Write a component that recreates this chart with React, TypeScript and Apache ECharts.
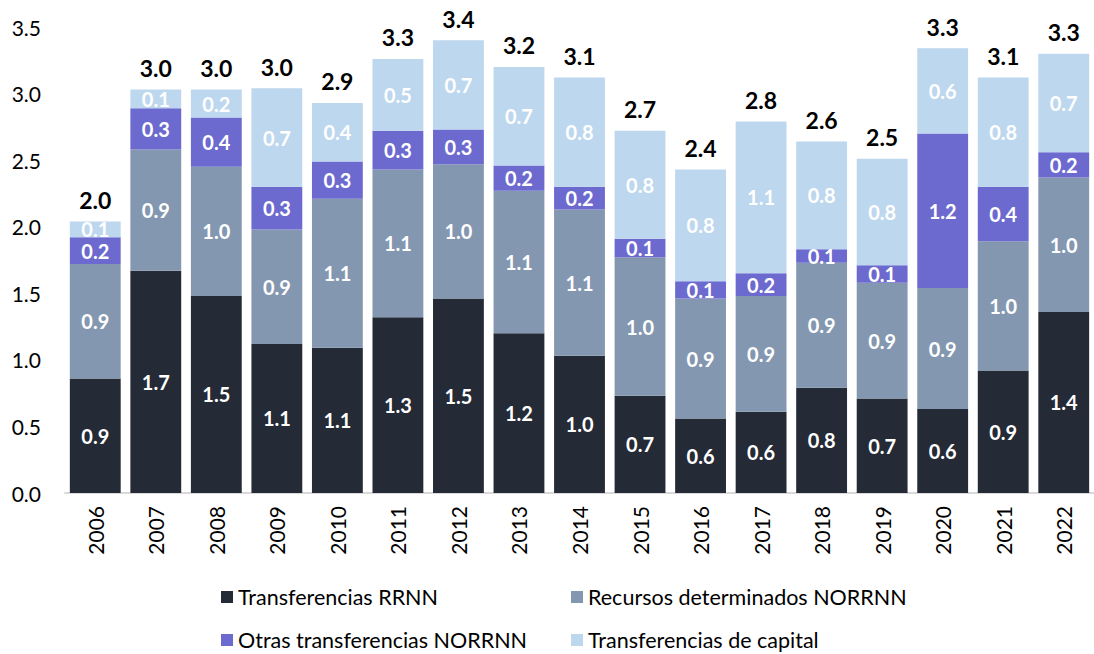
import React, { useEffect, useRef } from "react";
import * as echarts from "echarts";

const years = ["2006","2007","2008","2009","2010","2011","2012","2013","2014","2015","2016","2017","2018","2019","2020","2021","2022"];
const rrnn = [0.86,1.67,1.48,1.12,1.09,1.32,1.46,1.20,1.03,0.73,0.56,0.61,0.79,0.71,0.63,0.92,1.36];
const recursos = [0.86,0.91,0.97,0.86,1.12,1.11,1.01,1.07,1.10,1.04,0.90,0.87,0.94,0.87,0.91,0.97,1.01];
const otras = [0.20,0.31,0.37,0.32,0.28,0.29,0.26,0.19,0.17,0.14,0.13,0.17,0.10,0.13,1.16,0.41,0.19];
const capital = [0.12,0.14,0.21,0.74,0.44,0.54,0.67,0.74,0.82,0.81,0.84,1.14,0.81,0.80,0.64,0.82,0.74];
const yTicks = { min: 0, max: 3.5, interval: 0.5 };
const names = ["Transferencias RRNN","Recursos determinados NORRNN","Otras transferencias NORRNN","Transferencias de capital"];
const colors = ["#242a36","#8497b0","#6c69cf","#bdd7ee"];

const FONT = "Lato";

export default function App() {
  const ref = useRef<HTMLDivElement>(null);
  useEffect(() => {
    if (!ref.current) return;
    const chart = echarts.init(ref.current, null, { renderer: "svg" });
    const totals = years.map((_, i) => Math.round((rrnn[i] + recursos[i] + otras[i] + capital[i]) * 100) / 100);
    const seriesData = [rrnn, recursos, otras, capital];
    const series: any[] = seriesData.map((d, k) => ({
      name: names[k],
      type: "bar",
      stack: "total",
      barCategoryGap: "16%",
      data: d,
      itemStyle: { color: colors[k] },
      label: {
        show: true,
        position: "inside",
        color: "#ffffff",
        fontFamily: FONT,
        fontWeight: "bold",
        fontSize: 20,
        formatter: (p: any) => Number(p.value).toFixed(1),
      },
    }));
    series.push({
      name: "Total",
      type: "bar",
      stack: "total",
      data: totals.map(() => 0),
      itemStyle: { color: "transparent" },
      label: {
        show: true,
        position: "top",
        distance: 10,
        color: "#000000",
        fontFamily: FONT,
        fontWeight: "bold",
        fontSize: 23,
        formatter: (p: any) => totals[p.dataIndex].toFixed(1),
      },
    });
    const legendPos = [
      { left: 216, top: 581 },
      { left: 566, top: 581 },
      { left: 216, top: 624 },
      { left: 566, top: 624 },
    ];
    const legends = names.map((n, k) => ({
      data: [n],
      left: legendPos[k].left,
      top: legendPos[k].top,
      itemWidth: 12,
      itemHeight: 12,
      itemGap: 0,
      icon: "rect",
      textStyle: { fontFamily: FONT, fontSize: 21.5, color: "#000" },
    }));
    chart.setOption({
      animation: false,
      backgroundColor: "#ffffff",
      grid: { left: 65, top: 27, width: 1035, bottom: 161 },
      legend: legends,
      xAxis: {
        type: "category",
        data: years,
        axisLine: { lineStyle: { color: "#d9d9d9", width: 2 } },
        axisTick: { show: false },
        axisLabel: { rotate: 90, fontFamily: FONT, fontSize: 21, color: "#000", margin: 13 },
      },
      yAxis: {
        type: "value",
        min: yTicks.min,
        max: yTicks.max,
        interval: yTicks.interval,
        axisLine: { show: false },
        axisTick: { show: false },
        splitLine: { show: false },
        axisLabel: { fontFamily: FONT, fontSize: 21, color: "#000", margin: 24, formatter: (v: number) => v.toFixed(1) },
      },
      series,
    });
    return () => chart.dispose();
  }, []);
  return <div ref={ref} style={{ position: "absolute", left: 0, top: 0, width: 1094, height: 654 }} />;
}
